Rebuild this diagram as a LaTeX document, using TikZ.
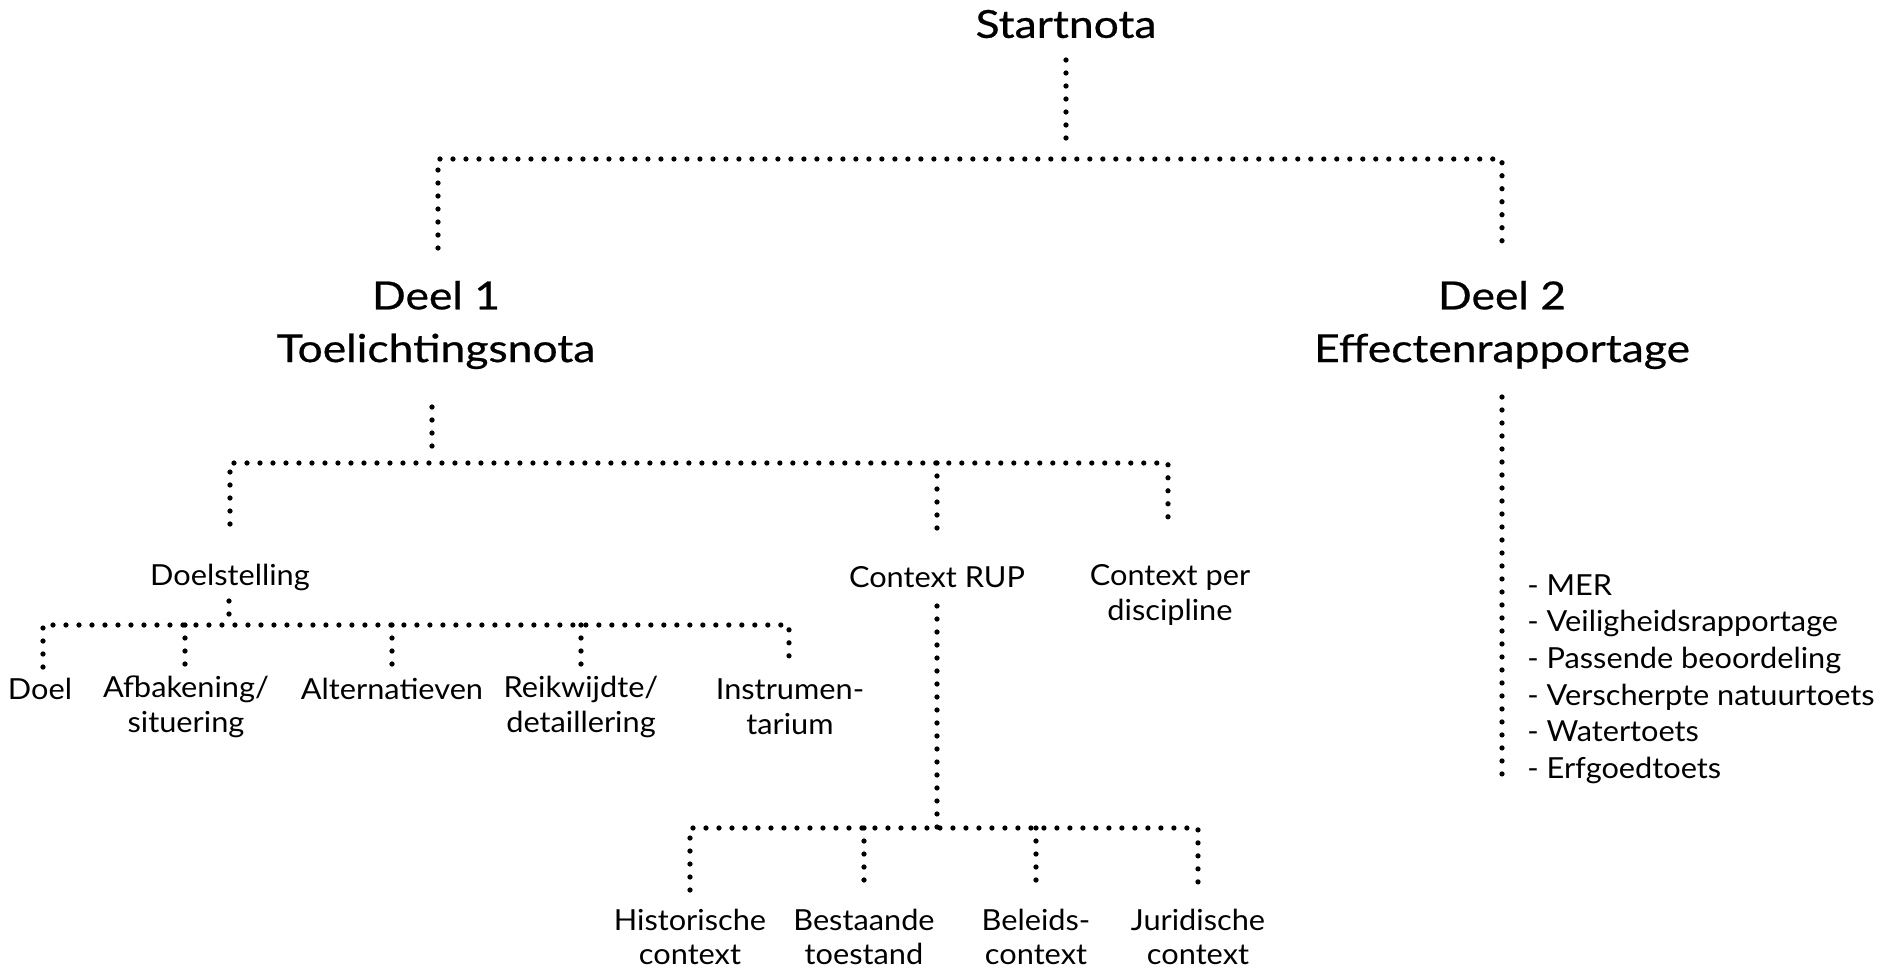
\documentclass[tikz,border=0pt]{standalone}
\usepackage{fontspec}
\setmainfont{Lato}
\newfontfamily\bigfont[FakeStretch=1.15,FakeBold=0.6]{Lato}
\newfontfamily\smallfont[FakeStretch=1.06]{Lato}
\begin{document}
\begin{tikzpicture}[x=0.02cm,y=-0.02cm,
  big/.style={inner sep=0pt,align=center,font=\bigfont\fontsize{22}{30}\selectfont},
  small/.style={inner sep=0pt,align=center,font=\smallfont\fontsize{16.5}{19.8}\selectfont},
  dotline/.style={line width=0.105cm,line cap=round,dash pattern=on 0pt off 0.26cm}]
\useasboundingbox (0,0) rectangle (1881,968);
% nodes
\node[big] (start) at (1066,24) {Startnota};
\node[big] (d1) at (436,325) {Deel 1\\Toelichtingsnota};
\node[big] (d2) at (1502,325) {Deel 2\\Effectenrapportage};
\node[small] (doel) at (230,577) {Doelstelling};
\node[small] (crup) at (937,577) {Context RUP};
\node[small] (cpd) at (1170,595) {Context per\\discipline};
\node[small] (ndoel) at (40,689) {Doel};
\node[small] (afb) at (186,707) {Afbakening/\\situering};
\node[small] (alt) at (392,689) {Alternatieven};
\node[small] (reik) at (581,707) {Reikwijdte/\\detaillering};
\node[small] (instr) at (790,707) {Instrumen-\\tarium};
\node[small] (hist) at (690,937) {Historische\\context};
\node[small] (best) at (864,937) {Bestaande\\toestand};
\node[small] (bel) at (1036,937) {Beleids-\\context};
\node[small] (jur) at (1198,937) {Juridische\\context};
\node[small,align=left,anchor=west,font=\smallfont\fontsize{16.5}{20.8}\selectfont] (lst) at (1527,679)
 {- MER\\- Veiligheidsrapportage\\- Passende beoordeling\\- Verscherpte natuurtoets\\- Watertoets\\- Erfgoedtoets};
% junction coordinates
\coordinate (s1a) at (1066,60);  \coordinate (s1b) at (1066,146);
\coordinate (b1l) at (438,159);  \coordinate (b1r) at (1502,159);
\coordinate (e1l) at (438,248);  \coordinate (e1r) at (1502,248);
\coordinate (s2a) at (432,407);  \coordinate (s2b) at (432,450);
\coordinate (b2l) at (230,463);  \coordinate (b2m) at (937,463); \coordinate (b2r) at (1168,463);
\coordinate (e2l) at (230,524);  \coordinate (e2m) at (937,539); \coordinate (e2r) at (1168,524);
\coordinate (v2a) at (1502,397); \coordinate (v2b) at (1502,777);
\coordinate (s3a) at (229,601);  \coordinate (s3b) at (229,614);
\coordinate (b3l) at (43,625);   \coordinate (b3r) at (789,625);
\coordinate (e3l) at (43,667);   \coordinate (e3r) at (789,667);
\coordinate (b3a) at (185,625);  \coordinate (e3a) at (185,667);
\coordinate (b3b) at (392,625);  \coordinate (e3b) at (392,667);
\coordinate (b3c) at (581,625);  \coordinate (e3c) at (581,667);
\coordinate (s4a) at (937,606);  \coordinate (b4m) at (937,828);
\coordinate (b4l) at (690,828);  \coordinate (b4r) at (1198,828);
\coordinate (e4l) at (690,890);  \coordinate (e4r) at (1198,890);
\coordinate (b4a) at (864,828);  \coordinate (e4a) at (864,890);
\coordinate (b4b) at (1036,828); \coordinate (e4b) at (1036,890);
% connectors
\draw[dotline] (s1a) -- (s1b);
\draw[dotline] (e1l) -- (b1l) -- (b1r) -- (e1r);
\draw[dotline] (s2a) -- (s2b);
\draw[dotline] (e2l) -- (b2l) -- (b2r) -- (e2r);
\draw[dotline] (b2m) -- (e2m);
\draw[dotline] (v2a) -- (v2b);
\draw[dotline] (s3a) -- (s3b);
\draw[dotline] (e3l) -- (b3l) -- (b3r) -- (e3r);
\draw[dotline] (b3a) -- (e3a);
\draw[dotline] (b3b) -- (e3b);
\draw[dotline] (b3c) -- (e3c);
\draw[dotline] (s4a) -- (b4m);
\draw[dotline] (e4l) -- (b4l) -- (b4r) -- (e4r);
\draw[dotline] (b4a) -- (e4a);
\draw[dotline] (b4b) -- (e4b);
\end{tikzpicture}
\end{document}
